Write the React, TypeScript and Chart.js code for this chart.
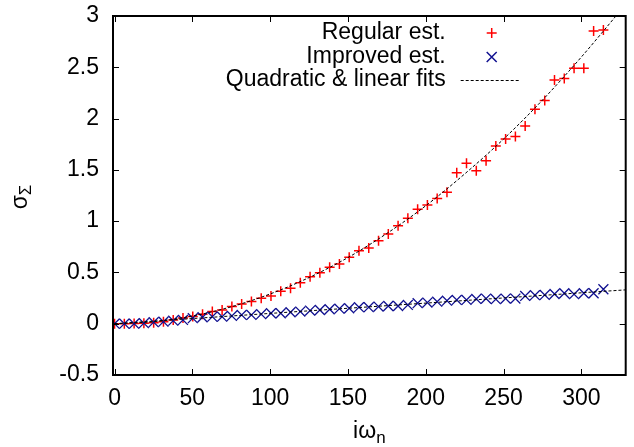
import React, { useEffect, useRef } from "react";
import { Chart, registerables } from "chart.js";
Chart.register(...registerables);

// Matsubara frequencies i*omega_n
const omegaN = [
  0, 6.28, 12.57, 18.85, 25.13, 31.42, 37.7, 43.98, 50.27, 56.55,
  62.83, 69.12, 75.4, 81.68, 87.96, 94.25, 100.53, 106.81, 113.1, 119.38,
  125.66, 131.95, 138.23, 144.51, 150.8, 157.08, 163.36, 169.65, 175.93, 182.21,
  188.5, 194.78, 201.06, 207.35, 213.63, 219.91, 226.19, 232.48, 238.76, 245.04,
  251.33, 257.61, 263.89, 270.18, 276.46, 282.74, 289.03, 295.31, 301.59, 307.88,
  314.16,
];

const regularEst = [
  0, 0, 0.003, 0.005, 0.01, 0.02, 0.037, 0.055, 0.07, 0.093,
  0.118, 0.134, 0.167, 0.193, 0.216, 0.248, 0.271, 0.317, 0.346, 0.4,
  0.459, 0.498, 0.551, 0.583, 0.648, 0.712, 0.739, 0.81, 0.875, 0.956,
  1.028, 1.116, 1.158, 1.22, 1.282, 1.473, 1.564, 1.492, 1.59, 1.733,
  1.8, 1.824, 1.928, 2.09, 2.175, 2.376, 2.39, 2.49, 2.49, 2.854,
  2.864,
];

const improvedEst = [
  0, 0, 0, 0.005, 0.015, 0.02, 0.03, 0.037, 0.054, 0.063,
  0.069, 0.069, 0.076, 0.086, 0.086, 0.093, 0.102, 0.102, 0.112, 0.118,
  0.128, 0.134, 0.141, 0.147, 0.151, 0.161, 0.161, 0.167, 0.173, 0.173,
  0.183, 0.2, 0.206, 0.215, 0.225, 0.232, 0.232, 0.242, 0.245, 0.239,
  0.245, 0.245, 0.271, 0.278, 0.281, 0.29, 0.297, 0.288, 0.297, 0.297,
  0.336,
];

// fit curves
const quadFitX = [0, 25, 50, 75, 100, 125, 150, 175, 200, 225, 250, 275, 300, 325];
const quadFitY = [0, 0.02, 0.075, 0.165, 0.29, 0.45, 0.645, 0.88, 1.15, 1.46, 1.8, 2.18, 2.6, 3.05];
const linFitX = [0, 328.5];
const linFitY = [0, 0.33];

const xTicks = [0, 50, 100, 150, 200, 250, 300];
const yTicks = [-0.5, 0, 0.5, 1, 1.5, 2, 2.5, 3];
const legendLabels = ["Regular est.", "Improved est.", "Quadratic & linear fits"];

const FONT = '"Liberation Sans", Arial, Helvetica, sans-serif';
const FS = 23;
const RED = "#ff0000";
const BLUE = "#101090";

const framePlugin = {
  id: "gnuFrame",
  afterDraw(chart: any) {
    const { ctx, chartArea: a, scales } = chart;
    const xs = scales.x;
    const ys = scales.y;
    ctx.save();
    // inward ticks on all four sides
    ctx.strokeStyle = "#000";
    ctx.lineWidth = 1;
    const tl = 6;
    ctx.beginPath();
    for (const v of xTicks) {
      const px = Math.round(xs.getPixelForValue(v)) + 0.5;
      ctx.moveTo(px, a.bottom);
      ctx.lineTo(px, a.bottom - tl);
      ctx.moveTo(px, a.top);
      ctx.lineTo(px, a.top + tl);
    }
    for (const v of yTicks) {
      const py = Math.round(ys.getPixelForValue(v)) + 0.5;
      ctx.moveTo(a.left, py);
      ctx.lineTo(a.left + tl, py);
      ctx.moveTo(a.right, py);
      ctx.lineTo(a.right - tl, py);
    }
    ctx.stroke();
    ctx.lineWidth = 2;
    ctx.strokeRect(a.left, a.top, a.right - a.left, a.bottom - a.top);

    // legend (text right-aligned, sample on the right)
    const textRight = a.right - 180;
    const sampleX = a.right - 134;
    const rows = [a.top + 17, a.top + 41, a.top + 64];
    ctx.font = `${FS}px ${FONT}`;
    ctx.fillStyle = "#000";
    ctx.textAlign = "right";
    ctx.textBaseline = "middle";
    legendLabels.forEach((t, i) => ctx.fillText(t, textRight, rows[i]));
    // + sample
    ctx.strokeStyle = RED;
    ctx.lineWidth = 1.5;
    ctx.beginPath();
    ctx.moveTo(sampleX - 5, rows[0]);
    ctx.lineTo(sampleX + 5, rows[0]);
    ctx.moveTo(sampleX, rows[0] - 5);
    ctx.lineTo(sampleX, rows[0] + 5);
    ctx.stroke();
    // x sample
    ctx.strokeStyle = BLUE;
    ctx.beginPath();
    ctx.moveTo(sampleX - 5, rows[1] - 5);
    ctx.lineTo(sampleX + 5, rows[1] + 5);
    ctx.moveTo(sampleX + 5, rows[1] - 5);
    ctx.lineTo(sampleX - 5, rows[1] + 5);
    ctx.stroke();
    // dashed line sample
    ctx.strokeStyle = "#000";
    ctx.lineWidth = 1;
    ctx.setLineDash([3, 2]);
    ctx.beginPath();
    ctx.moveTo(a.right - 165, rows[2] + 0.5);
    ctx.lineTo(a.right - 105, rows[2] + 0.5);
    ctx.stroke();
    ctx.setLineDash([]);

    // y title: sigma_Sigma (rotated)
    ctx.save();
    ctx.translate(0, 197);
    ctx.rotate(-Math.PI / 2);
    ctx.textAlign = "left";
    ctx.textBaseline = "alphabetic";
    ctx.font = `${FS}px ${FONT}`;
    const w1 = ctx.measureText("σ").width;
    ctx.font = `17px ${FONT}`;
    const w2 = ctx.measureText("Σ").width;
    const x0 = -(w1 + w2) / 2;
    ctx.font = `${FS}px ${FONT}`;
    ctx.fillText("σ", x0, 27);
    ctx.font = `17px ${FONT}`;
    ctx.fillText("Σ", x0 + w1, 31);
    ctx.restore();

    // x title: i omega_n
    ctx.textAlign = "left";
    ctx.textBaseline = "alphabetic";
    ctx.font = `${FS}px ${FONT}`;
    const v1 = ctx.measureText("iω").width;
    ctx.font = `17px ${FONT}`;
    const v2 = ctx.measureText("n").width;
    const cx = (a.left + a.right) / 2;
    const sx = cx - (v1 + v2) / 2;
    ctx.font = `${FS}px ${FONT}`;
    ctx.fillText("iω", sx, 438);
    ctx.font = `17px ${FONT}`;
    ctx.fillText("n", sx + v1, 443);
    ctx.restore();
  },
};

export default function App() {
  const ref = useRef<HTMLCanvasElement | null>(null);
  useEffect(() => {
    document.body.style.margin = "0";
    const canvas = ref.current;
    if (!canvas) return;
    const chart = new Chart(canvas, {
      type: "scatter",
      data: {
        datasets: [
          {
            label: "Regular est.",
            data: omegaN.map((x, i) => ({ x, y: regularEst[i] })),
            showLine: false,
            pointStyle: "cross",
            pointRadius: 5,
            pointBorderWidth: 1.5,
            borderColor: RED,
            backgroundColor: RED,
            order: 2,
          },
          {
            label: "Improved est.",
            data: omegaN.map((x, i) => ({ x, y: improvedEst[i] })),
            showLine: false,
            pointStyle: "crossRot",
            pointRadius: 7,
            pointBorderWidth: 1.3,
            borderColor: BLUE,
            backgroundColor: BLUE,
            order: 1,
          },
          {
            label: "Quadratic fit",
            data: quadFitX.map((x, i) => ({ x, y: quadFitY[i] })),
            showLine: true,
            pointRadius: 0,
            borderColor: "#000",
            borderWidth: 1,
            borderDash: [3, 2],
            cubicInterpolationMode: "monotone",
            order: 0,
          },
          {
            label: "Linear fit",
            data: linFitX.map((x, i) => ({ x, y: linFitY[i] })),
            showLine: true,
            pointRadius: 0,
            borderColor: "#000",
            borderWidth: 1,
            borderDash: [3, 2],
            order: 0,
          },
        ],
      } as any,
      options: {
        animation: false,
        responsive: false,
        devicePixelRatio: 1,
        layout: { padding: { top: 16, right: 1, left: 0, bottom: 0 } },
        plugins: { legend: { display: false }, tooltip: { enabled: false } },
        scales: {
          x: {
            type: "linear",
            min: -1,
            max: 328.5,
            afterBuildTicks: (s: any) => {
              s.ticks = xTicks.map((v) => ({ value: v }));
            },
            afterFit: (s: any) => {
              s.height = 72;
              s.paddingLeft = 0;
              s.paddingRight = 0;
            },
            grid: { display: false, drawTicks: false },
            border: { display: false },
            ticks: {
              color: "#000",
              padding: 10,
              maxRotation: 0,
              font: { family: FONT, size: FS },
              callback: (v: any) => String(v),
            },
          },
          y: {
            type: "linear",
            min: -0.5,
            max: 3,
            afterBuildTicks: (s: any) => {
              s.ticks = yTicks.map((v) => ({ value: v }));
            },
            afterFit: (s: any) => {
              s.width = 113;
              s.paddingTop = 0;
              s.paddingBottom = 0;
            },
            grid: { display: false, drawTicks: false },
            border: { display: false },
            ticks: {
              color: "#000",
              padding: 14,
              font: { family: FONT, size: FS },
              callback: (v: any) => String(v),
            },
          },
        },
      } as any,
      plugins: [framePlugin],
    });
    return () => chart.destroy();
  }, []);
  return (
    <div style={{ width: 634, height: 447 }}>
      <canvas ref={ref} width={634} height={447} style={{ display: "block" }} />
    </div>
  );
}
